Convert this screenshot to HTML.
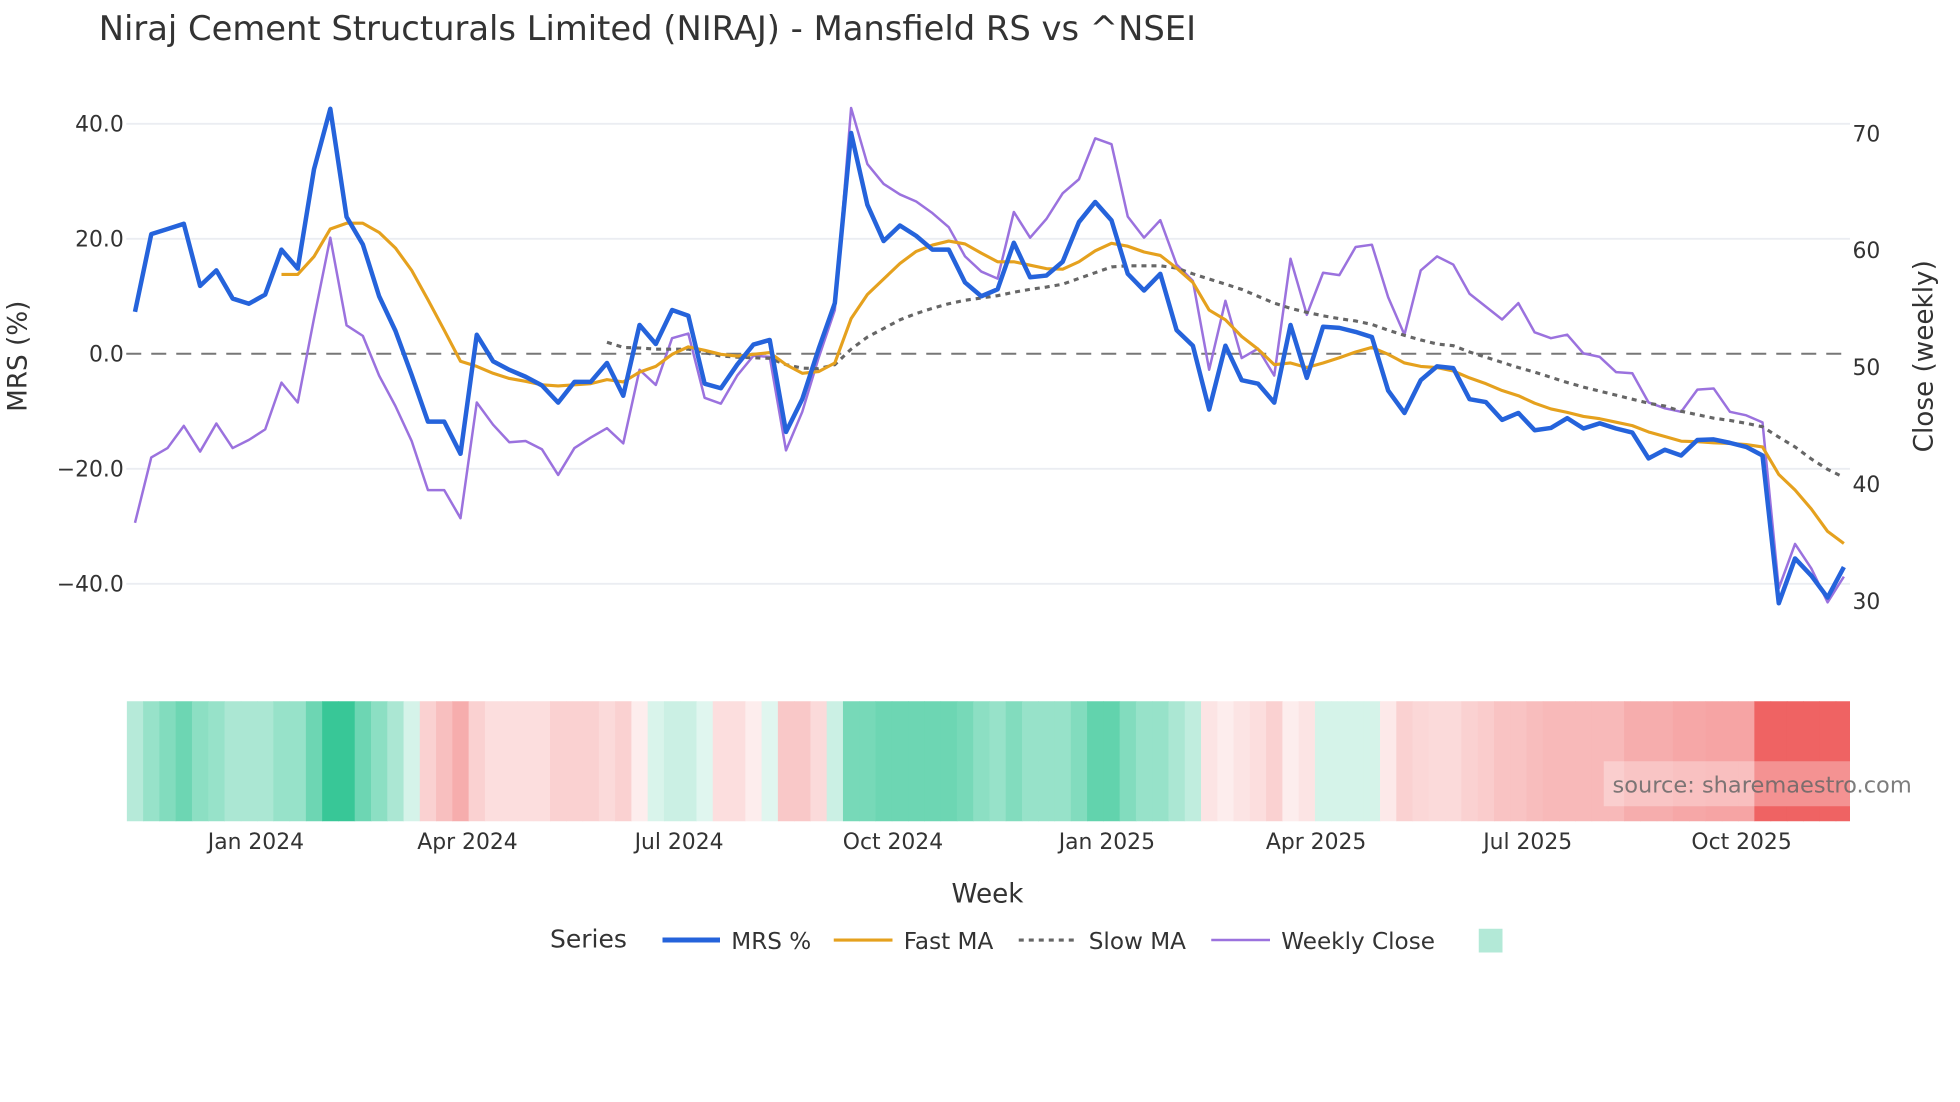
<!DOCTYPE html>
<html><head><meta charset="utf-8"><style>
html,body{margin:0;padding:0;background:#fff;}
svg{display:block;font-family:"DejaVu Sans","Liberation Sans",sans-serif;}
</style></head><body>
<svg id="chart" width="1960" height="1102" viewBox="0 0 1568 881.6" xmlns="http://www.w3.org/2000/svg">
<rect width="1568" height="881.6" fill="#fff"/>
<text x="79" y="32" font-size="27" fill="#333">Niraj Cement Structurals Limited (NIRAJ) - Mansfield RS vs ^NSEI</text>
<g id="grid"></g>
<g id="heat"></g>
<g id="lines"></g>
<g id="axes"></g>
<text transform="translate(21,285) rotate(-90)" text-anchor="middle" font-size="21" fill="#333">MRS (%)</text>
<text transform="translate(1546,285) rotate(-90)" text-anchor="middle" font-size="21" fill="#333">Close (weekly)</text>
<text x="790" y="722" text-anchor="middle" font-size="21" fill="#333">Week</text>
<rect x="1283" y="609" width="197" height="36" fill="#fff" fill-opacity="0.3"/>
<text x="1290" y="634" font-size="18" fill="#666" fill-opacity="0.85">source: sharemaestro.com</text>
<g>
<text x="440" y="758" font-size="20" fill="#333">Series</text>
<g><line x1="530" y1="752" x2="576" y2="752" stroke="#2563db" stroke-width="4"/><text x="585" y="759" font-size="18.5" fill="#333">MRS %</text></g>
<g><line x1="667" y1="752" x2="714" y2="752" stroke="#e5a11e" stroke-width="2.5"/><text x="723" y="759" font-size="18.5" fill="#333">Fast MA</text></g>
<g><line x1="815" y1="752" x2="861" y2="752" stroke="#666" stroke-width="2.5" stroke-dasharray="4,4"/><text x="871" y="759" font-size="18.5" fill="#333">Slow MA</text></g>
<g><line x1="969" y1="752" x2="1016" y2="752" stroke="#9b72de" stroke-width="2"/><text x="1025" y="759" font-size="18.5" fill="#333">Weekly Close</text></g>
<rect x="1183" y="743" width="19" height="19" fill="#b3e9d7"/>
</g>
</svg>
<script>
const startDate = "2023-11-10";
const mrsValues = [7.3,20.8,21.7,22.6,11.8,14.5,9.6,8.7,10.3,18.1,14.8,32.1,42.6,23.8,19.0,10.0,4.0,-3.7,-11.8,-11.8,-17.4,3.3,-1.3,-2.8,-4.0,-5.5,-8.5,-4.9,-4.9,-1.6,-7.3,5.0,1.7,7.6,6.6,-5.2,-6.0,-1.9,1.6,2.4,-13.6,-7.9,0.8,8.8,38.4,25.9,19.6,22.3,20.5,18.1,18.1,12.4,10.0,11.2,19.3,13.3,13.6,16.0,22.9,26.4,23.2,13.9,11.0,13.9,4.1,1.4,-9.7,1.4,-4.6,-5.2,-8.5,5.0,-4.2,4.7,4.5,3.8,2.9,-6.4,-10.3,-4.6,-2.2,-2.5,-7.9,-8.4,-11.5,-10.3,-13.3,-12.9,-11.2,-13.0,-12.1,-13.0,-13.7,-18.2,-16.7,-17.7,-15.0,-14.9,-15.5,-16.2,-17.7,-43.4,-35.6,-38.6,-42.4,-37.1];
const closeValues = [36.6,42.2,43.0,44.9,42.7,45.1,43.0,43.7,44.6,48.6,46.9,54.1,61.0,53.5,52.6,49.2,46.6,43.6,39.4,39.4,37.0,46.9,45.0,43.5,43.6,42.9,40.7,43.0,43.9,44.7,43.4,49.7,48.4,52.4,52.8,47.3,46.8,49.2,50.9,50.8,42.8,46.1,50.7,54.8,72.1,67.3,65.6,64.7,64.1,63.1,61.9,59.4,58.1,57.5,63.2,61.0,62.6,64.8,66.0,69.5,69.0,62.8,61.0,62.5,58.7,57.3,49.7,55.6,50.7,51.5,49.2,59.2,54.4,58.0,57.8,60.2,60.4,55.9,52.7,58.2,59.4,58.7,56.2,55.1,54.0,55.4,52.9,52.4,52.7,51.1,50.8,49.5,49.4,46.9,46.4,46.1,48.0,48.1,46.1,45.8,45.2,31.0,34.8,32.7,29.8,32.0];
const fastValues = [null,null,null,null,null,null,null,null,null,13.8,13.8,16.9,21.7,22.7,22.7,21.1,18.4,14.5,9.4,4.1,-1.3,-2.2,-3.4,-4.3,-4.8,-5.4,-5.6,-5.4,-5.2,-4.5,-4.9,-3.2,-2.2,-0.1,1.2,0.6,-0.1,-0.4,-0.1,0.2,-1.9,-3.4,-3.1,-1.6,6.1,10.3,13.0,15.7,17.8,18.9,19.6,19.1,17.5,16.0,16.0,15.4,14.8,14.7,16.0,17.9,19.2,18.7,17.7,17.1,14.9,12.4,7.6,5.9,3.0,0.8,-1.9,-1.6,-2.4,-1.6,-0.7,0.3,1.1,-0.1,-1.6,-2.2,-2.4,-3.0,-4.2,-5.2,-6.4,-7.3,-8.6,-9.6,-10.2,-10.9,-11.3,-11.9,-12.5,-13.6,-14.4,-15.2,-15.3,-15.5,-15.6,-15.8,-16.2,-21.0,-23.7,-27.0,-30.9,-33.0];
const slowValues = [null,null,null,null,null,null,null,null,null,null,null,null,null,null,null,null,null,null,null,null,null,null,null,null,null,null,null,null,null,2.0,1.1,1.0,0.8,0.8,0.8,0.2,-0.4,-0.6,-0.7,-0.8,-1.9,-2.5,-2.6,-1.9,0.8,2.9,4.4,5.9,7.0,7.9,8.7,9.3,9.7,10.1,10.7,11.2,11.6,12.1,13.1,14.1,15.1,15.3,15.3,15.3,14.9,13.9,13.0,12.1,11.2,10.0,8.8,7.9,7.2,6.6,6.1,5.7,5.1,4.1,3.2,2.4,1.7,1.4,0.3,-0.6,-1.5,-2.4,-3.2,-4.1,-5.0,-5.8,-6.5,-7.2,-7.9,-8.6,-9.1,-10.0,-10.6,-11.2,-11.6,-12.1,-12.7,-14.5,-16.2,-18.3,-20.1,-21.5];
const heatValues = [0.35,0.5,0.6,0.7,0.55,0.5,0.4,0.4,0.4,0.5,0.5,0.7,0.95,0.95,0.7,0.55,0.4,0.2,-0.25,-0.35,-0.45,-0.25,-0.18,-0.18,-0.18,-0.18,-0.25,-0.25,-0.25,-0.2,-0.25,-0.1,0.18,0.25,0.25,0.15,-0.18,-0.18,-0.1,0.15,-0.3,-0.3,-0.2,0.25,0.65,0.65,0.7,0.7,0.7,0.7,0.7,0.65,0.55,0.5,0.6,0.5,0.5,0.5,0.6,0.75,0.75,0.6,0.5,0.5,0.4,0.3,-0.15,-0.1,-0.15,-0.18,-0.25,-0.1,-0.15,0.2,0.2,0.2,0.2,-0.12,-0.25,-0.22,-0.2,-0.2,-0.25,-0.28,-0.33,-0.33,-0.36,-0.38,-0.38,-0.38,-0.38,-0.38,-0.45,-0.45,-0.45,-0.48,-0.48,-0.5,-0.5,-0.5,-0.85,-0.85,-0.85,-0.85,-0.85,-0.85];
const leftTicks = [40,20,0,-20,-40];
const rightTicks = [70,60,50,40,30];
const xTickLabels = ["Jan 2024","Apr 2024","Jul 2024","Oct 2024","Jan 2025","Apr 2025","Jul 2025","Oct 2025"];
const xTickDates = ["2024-01-01","2024-04-01","2024-07-01","2024-10-01","2025-01-01","2025-04-01","2025-07-01","2025-10-01"];

const NS="http://www.w3.org/2000/svg";
const t0 = Date.parse(startDate);
const DAY=86400000;
function xDays(d){return 108 + d*13.02/7;}
function xDate(s){return xDays((Date.parse(s)-t0)/DAY);}
function xIdx(i){return xDays(i*7);}
function yL(v){return 283 - v*4.6;}
function yR(v){return 293 - (v-50)*9.35;}
function mk(tag,attrs,parent){const e=document.createElementNS(NS,tag);for(const k in attrs)e.setAttribute(k,attrs[k]);parent.appendChild(e);return e;}
const grid=document.getElementById('grid'),heat=document.getElementById('heat'),lines=document.getElementById('lines'),axes=document.getElementById('axes');
leftTicks.forEach(v=>{
  if(v!==0){const g=mk('line',{x1:101,x2:1480,y1:yL(v),y2:yL(v),stroke:'#ebedf2','stroke-width':1.5},grid);
  
  }
  const t=mk('text',{x:99,y:yL(v)+6,'text-anchor':'end','font-size':17.5,fill:'#333'},axes);
  t.textContent=v.toFixed(1).replace('-','\u2212');
  
  
});
const zl=mk('line',{x1:101,x2:1480,y1:yL(0),y2:yL(0),stroke:'#777','stroke-width':1.6,'stroke-dasharray':'12,8'},grid);


rightTicks.forEach(v=>{
  const t=mk('text',{x:1482,y:yR(v)+7,'font-size':17.5,fill:'#333'},axes);
  t.textContent=v;
  
  
});
xTickLabels.forEach((l,k)=>{
  const t=mk('text',{x:xDate(xTickDates[k]),y:679,'text-anchor':'middle','font-size':17.5,fill:'#333'},axes);
  t.textContent=l;
  
  
});
function heatColor(v){
  const a=Math.min(1,Math.abs(v));
  const full=v>=0?[46,196,146]:[236,72,72];
  const c=full.map(f=>Math.round(255+(f-255)*a));
  return 'rgb('+c.join(',')+')';
}
const cw=13.02;
heatValues.forEach((v,i)=>{
  const x0=Math.max(101,xIdx(i)-cw/2), x1=Math.min(1480,xIdx(i)+cw/2+0.4);
  const r=mk('rect',{x:x0,y:561,width:Math.max(0,x1-x0),height:96,fill:heatColor(v)},heat);
  
  
});
function path(vals,yf){
  let d='';let pen=false;
  vals.forEach((v,i)=>{if(v===null||v===undefined){pen=false;return;}d+=(pen?'L':'M')+xIdx(i).toFixed(2)+','+yf(v).toFixed(2);pen=true;});
  return d;
}
const pc=mk('path',{d:path(closeValues,yR),fill:'none',stroke:'#9b72de','stroke-width':2,'stroke-linejoin':'round'},lines);


const ps=mk('path',{d:path(slowValues,yL),fill:'none',stroke:'#666','stroke-width':2.5,'stroke-dasharray':'4,4'},lines);


const pf=mk('path',{d:path(fastValues,yL),fill:'none',stroke:'#e5a11e','stroke-width':2.5,'stroke-linejoin':'round'},lines);


const pm=mk('path',{d:path(mrsValues,yL),fill:'none',stroke:'#2563db','stroke-width':3.6,'stroke-linejoin':'round'},lines);


</script>
</body></html>
